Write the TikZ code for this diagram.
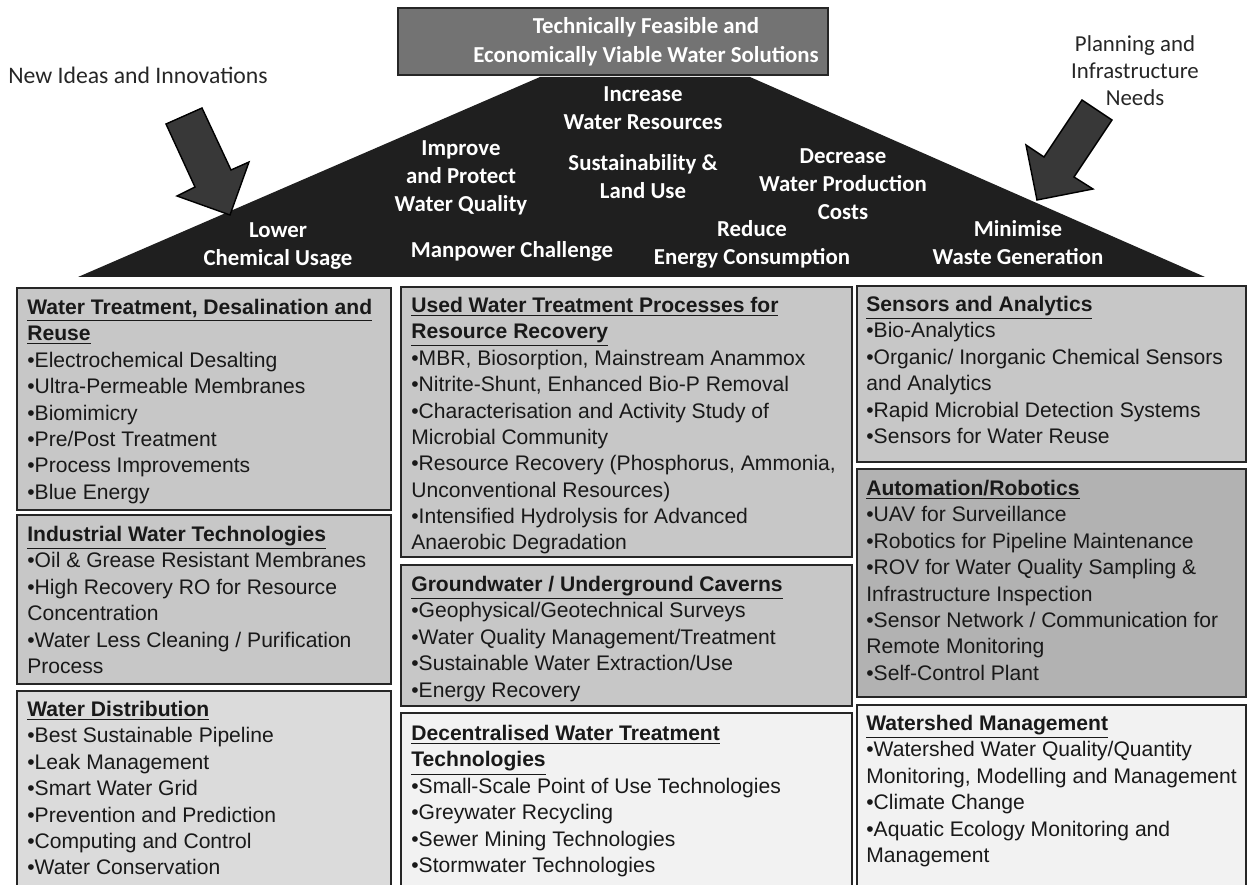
\documentclass[tikz,border=0pt]{standalone}
\usepackage{fontspec}
\setmainfont{Liberation Sans}
\newfontfamily\roofFont{Carlito}
\usetikzlibrary{positioning}

\newcommand\boxhead[1]{\textbf{\underline{#1}}}
\newcommand\bulletpt{\textbullet}

\tikzset{
  panel/.style={draw=black!85, line width=1.6pt},
  panelText/.style={anchor=north west, inner sep=0pt, align=left,
    font=\fontsize{12}{15}\selectfont, text=black!90},
  roofText/.style={align=center, text=white, inner sep=0pt,
    font=\roofFont\bfseries\fontsize{13}{16}\selectfont},
  sideText/.style={align=center, text=black!85, inner sep=0pt,
    font=\roofFont\fontsize{13}{15.3}\selectfont},
  bigArrow/.style={draw=black, line width=0.8pt, fill=black!78},
}

\begin{document}
\begin{tikzpicture}[x=0.02cm, y=-0.02cm]
\useasboundingbox (0,0) rectangle (1249,885);

% roof
\fill[black!88] (78,277) -- (540,77) -- (750,77) -- (1205,277) -- cycle;
\draw[panel, fill=black!55] (398,8) rectangle (828,75);
\node[roofText, font=\roofFont\bfseries\fontsize{13}{16.5}\selectfont] (title) at (646,42)
  {Technically Feasible and\\Economically Viable Water Solutions};

\node[roofText] (incr) at (643,108) {Increase\\Water Resources};
\node[roofText] (qual) at (461,178) {Improve\\and Protect\\Water Quality};
\node[roofText] (sust) at (643,177) {Sustainability \&\\Land Use};
\node[roofText] (cost) at (843,184) {Decrease\\Water Production\\Costs};
\node[roofText] (chem) at (278,246) {Lower\\Chemical Usage};
\node[roofText] (manp) at (512,251) {Manpower Challenge};
\node[roofText] (ener) at (752,244) {Reduce\\Energy Consumption};
\node[roofText] (wast) at (1018,243) {Minimise\\Waste Generation};

% side inputs
\node[sideText, font=\roofFont\fontsize{13.5}{15.3}\selectfont] (ideas) at (138,75) {New Ideas and Innovations};
\node[sideText] (plan) at (1135,71) {Planning and\\Infrastructure\\Needs};
\draw[bigArrow] (166,124) -- (202,108) -- (231,170) -- (249,162) -- (230,215)
  -- (177,196) -- (195,187) -- cycle;
\draw[bigArrow] (1082,100) -- (1112,120) -- (1074,177) -- (1093,189) -- (1037,200)
  -- (1026,145) -- (1044,157) -- cycle;

% left column
\draw[panel, fill=black!22] (17,288) rectangle (391,510);
\draw[panel, fill=black!22] (17,515) rectangle (391,684);
\draw[panel, fill=black!14] (17,691) rectangle (391,890);
\node[panelText] (wtdr) at (27,299) {\boxhead{Water Treatment, Desalination and}\\
  \boxhead{Reuse}\\ \bulletpt Electrochemical Desalting\\ \bulletpt Ultra-Permeable Membranes\\
  \bulletpt Biomimicry\\ \bulletpt Pre/Post Treatment\\ \bulletpt Process Improvements\\
  \bulletpt Blue Energy};
\node[panelText] (indu) at (27,526) {\boxhead{Industrial Water Technologies}\\
  \bulletpt Oil \& Grease Resistant Membranes\\ \bulletpt High Recovery RO for Resource\\
  Concentration\\ \bulletpt Water Less Cleaning / Purification\\ Process};
\node[panelText] (dist) at (27,701) {\boxhead{Water Distribution}\\
  \bulletpt Best Sustainable Pipeline\\ \bulletpt Leak Management\\ \bulletpt Smart Water Grid\\
  \bulletpt Prevention and Prediction\\ \bulletpt Computing and Control\\
  \bulletpt Water Conservation};

% middle column
\draw[panel, fill=black!22] (401,287) rectangle (852,557);
\draw[panel, fill=black!22] (401,565) rectangle (852,706);
\draw[panel, fill=black!5] (401,713) rectangle (852,890);
\node[panelText] (used) at (411,297) {\boxhead{Used Water Treatment Processes for}\\
  \boxhead{Resource Recovery}\\ \bulletpt MBR, Biosorption, Mainstream Anammox\\
  \bulletpt Nitrite-Shunt, Enhanced Bio-P Removal\\
  \bulletpt Characterisation and Activity Study of\\ Microbial Community\\
  \bulletpt Resource Recovery (Phosphorus, Ammonia,\\ Unconventional Resources)\\
  \bulletpt Intensified Hydrolysis for Advanced\\ Anaerobic Degradation};
\node[panelText] (grnd) at (411,576) {\boxhead{Groundwater / Underground Caverns}\\
  \bulletpt Geophysical/Geotechnical Surveys\\ \bulletpt Water Quality Management/Treatment\\
  \bulletpt Sustainable Water Extraction/Use\\ \bulletpt Energy Recovery};
\node[panelText] (dece) at (411,725) {\boxhead{Decentralised Water Treatment}\\
  \boxhead{Technologies}\\ \bulletpt Small-Scale Point of Use Technologies\\
  \bulletpt Greywater Recycling\\ \bulletpt Sewer Mining Technologies\\
  \bulletpt Stormwater Technologies};

% right column
\draw[panel, fill=black!22] (857,286) rectangle (1246,462);
\draw[panel, fill=black!30] (857,469) rectangle (1246,697);
\draw[panel, fill=black!5] (857,705) rectangle (1246,890);
\node[panelText] (sens) at (866,296) {\boxhead{Sensors and Analytics}\\
  \bulletpt Bio-Analytics\\ \bulletpt Organic/ Inorganic Chemical Sensors\\ and Analytics\\
  \bulletpt Rapid Microbial Detection Systems\\ \bulletpt Sensors for Water Reuse};
\node[panelText] (auto) at (866,480) {\boxhead{Automation/Robotics}\\
  \bulletpt UAV for Surveillance\\ \bulletpt Robotics for Pipeline Maintenance\\
  \bulletpt ROV for Water Quality Sampling \&\\ Infrastructure Inspection\\
  \bulletpt Sensor Network / Communication for\\ Remote Monitoring\\
  \bulletpt Self-Control Plant};
\node[panelText] (shed) at (866,715) {\boxhead{Watershed Management}\\
  \bulletpt Watershed Water Quality/Quantity\\ Monitoring, Modelling and Management\\
  \bulletpt Climate Change\\ \bulletpt Aquatic Ecology Monitoring and\\ Management};
\end{tikzpicture}
\end{document}
